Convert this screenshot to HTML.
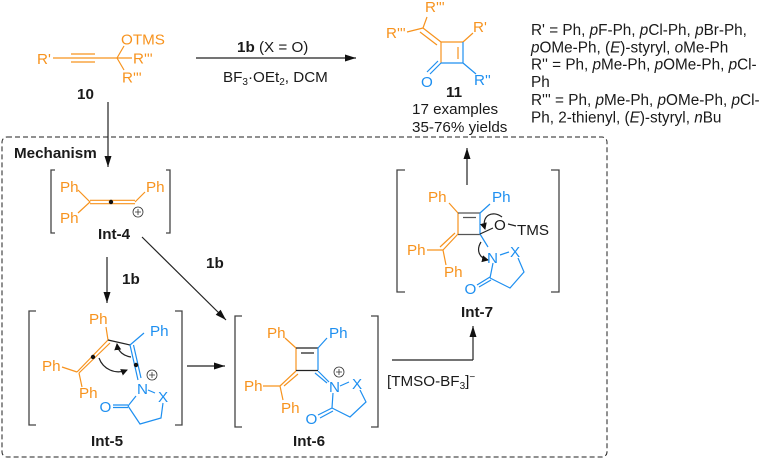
<!DOCTYPE html>
<html><head><meta charset="utf-8"><style>
html,body{margin:0;padding:0;background:#fff;width:761px;height:458px;overflow:hidden}
svg{display:block}
text{font-family:"Liberation Sans",sans-serif;font-size:15.2px;fill:#1a1a1a}
.o{fill:#f7931e}.b{fill:#1e8ff0}.B{font-weight:bold}
.r{font-size:15.3px}
.lo{stroke:#f7931e;fill:none;stroke-width:1.2}
.lb{stroke:#1e8ff0;fill:none;stroke-width:1.2}
.lk{stroke:#222;fill:none;stroke-width:1.2}
.br{stroke:#444;fill:none;stroke-width:1.3}
.pl{fill:none;stroke:#333;stroke-width:.8}
</style></head><body>
<svg width="761" height="458" viewBox="0 0 761 458" xmlns="http://www.w3.org/2000/svg">
<defs>
<marker id="a" markerUnits="userSpaceOnUse" markerWidth="12" markerHeight="10" refX="11" refY="5" orient="auto"><path d="M0 1.500L11 5L0 8.500Z" fill="#111"/></marker>
<marker id="c" markerUnits="userSpaceOnUse" markerWidth="8" markerHeight="8" refX="6" refY="4" orient="auto"><path d="M0 .5L7 4L0 7.500Z" fill="#111"/></marker>
</defs>

<!-- dashed box -->
<rect x="2" y="137" width="605" height="320" rx="5" fill="none" stroke="#222" stroke-width="1" stroke-dasharray="5 3"/>

<!-- 10 -->
<g class="lo">
<path d="M53 58H71M71 58H95M71 54H95M71 62H95M95 58H117L132 58"/>
<path d="M117 58L124 46M117 58L124 70"/>
</g>
<text class="o" x="37" y="64">R'</text>
<text class="o" x="121" y="44.500">OTMS</text>
<text class="o" x="133" y="63.500">R'''</text>
<text class="o" x="122" y="82.500">R'''</text>
<text class="B" x="77" y="99">10</text>

<!-- main arrow -->
<line class="lk" x1="196" y1="58" x2="356" y2="58" marker-end="url(#a)"/>
<text x="237" y="52"><tspan class="B">1b</tspan> (X = O)</text>
<text x="223" y="82">BF<tspan font-size="10" dy="3">3</tspan><tspan dy="-3">·OEt</tspan><tspan font-size="10" dy="3">2</tspan><tspan dy="-3">, DCM</tspan></text>

<!-- 11 -->
<g class="lo">
<path d="M441 42H463M441 42V63M463 42L473 33M458 47V59"/>
<path d="M423 28L441 42M420 32L437 45M423 28L427 17M407 32L423 28"/>
</g>
<g class="lb">
<path d="M441 63H463M463 42V63M463 63L476 74"/>
<path d="M441 63L430 74M438 61L427 72"/>
</g>
<text class="o" x="425" y="12">R'''</text>
<text class="o" x="386" y="38">R'''</text>
<text class="o" x="473" y="32">R'</text>
<text class="b" x="421" y="87">O</text>
<text class="b" x="474" y="85">R''</text>
<text class="B" x="446" y="97">11</text>
<text x="412" y="114">17 examples</text>
<text x="412" y="132">35-76% yields</text>

<!-- right text -->
<text class="r" x="531" y="35">R' = Ph, <tspan font-style="italic">p</tspan>F-Ph, <tspan font-style="italic">p</tspan>Cl-Ph, <tspan font-style="italic">p</tspan>Br-Ph,</text>
<text class="r" x="531" y="52.500"><tspan font-style="italic">p</tspan>OMe-Ph, (<tspan font-style="italic">E</tspan>)-styryl, <tspan font-style="italic">o</tspan>Me-Ph</text>
<text class="r" x="531" y="69.500">R'' = Ph, <tspan font-style="italic">p</tspan>Me-Ph, <tspan font-style="italic">p</tspan>OMe-Ph, <tspan font-style="italic">p</tspan>Cl-</text>
<text class="r" x="531" y="87">Ph</text>
<text class="r" x="531" y="105">R''' = Ph, <tspan font-style="italic">p</tspan>Me-Ph, <tspan font-style="italic">p</tspan>OMe-Ph, <tspan font-style="italic">p</tspan>Cl-</text>
<text class="r" x="531" y="122.500">Ph, 2-thienyl, (<tspan font-style="italic">E</tspan>)-styryl, <tspan font-style="italic">n</tspan>Bu</text>

<text class="B" x="14" y="158">Mechanism</text>
<line class="lk" x1="108" y1="102" x2="108" y2="167" marker-end="url(#a)"/>

<!-- Int-4 -->
<path class="br" d="M55 170H51V233H55M166 170H170V233H166"/>
<g class="lo">
<path d="M78 190L90 202L78 213M135 202L145 192"/>
<path d="M90 200.300H135M90 203.700H135"/>
</g>
<circle cx="111" cy="202" r="2.200" fill="#111"/>
<circle class="pl" cx="138" cy="212" r="5"/><path class="pl" d="M135 212H141M138 209V215"/>
<text class="o" x="60" y="192">Ph</text>
<text class="o" x="60" y="223">Ph</text>
<text class="o" x="146" y="192">Ph</text>
<text class="B" x="98" y="239">Int-4</text>

<line class="lk" x1="107" y1="257" x2="107" y2="303" marker-end="url(#a)"/>
<text class="B" x="122" y="284">1b</text>
<line class="lk" x1="142" y1="237" x2="226" y2="320" marker-end="url(#a)"/>
<text class="B" x="206" y="268">1b</text>

<!-- Int-5 -->
<path class="br" d="M36 311H29V425H36M175 311H182V425H175"/>
<g class="lo">
<path d="M108 340L77 372M110 343L79 373"/>
<path d="M106 327L108 340M62 367L77 372M79 373L82 387"/>
</g>
<path class="lk" d="M108 340L130 345"/>
<g class="lb">
<path d="M130 345L144 333M130 345L138 380M133.500 345L141 378"/>
<path d="M148 390L155 393M136 396L128 406M128 405H113M128 407.500H113M128 406L140 424L161 418L163 403"/>
</g>
<circle cx="93" cy="357" r="2.200" fill="#111"/>
<circle cx="136" cy="365" r="2.200" fill="#111"/>
<path class="lk" d="M131 357C124 356 118 352 117 344" stroke-width="1" marker-end="url(#c)"/>
<path class="lk" d="M99 358C103 369 115 375 127 370" stroke-width="1" marker-end="url(#c)"/>
<circle class="pl" cx="152" cy="375" r="5"/><path class="pl" d="M149 375H155M152 372V378"/>
<text class="o" x="89" y="324">Ph</text>
<text class="b" x="150" y="336">Ph</text>
<text class="o" x="42" y="371">Ph</text>
<text class="o" x="79" y="398">Ph</text>
<text class="b" x="137" y="394">N</text>
<text class="b" x="158" y="402">X</text>
<text class="b" x="99.500" y="412">O</text>
<text class="B" x="91" y="446">Int-5</text>

<line class="lk" x1="187" y1="366" x2="225" y2="366" marker-end="url(#a)"/>

<!-- Int-6 -->
<path class="br" d="M242 316H235V427H242M371 316H378V427H371"/>
<g class="lo">
<path d="M296 348V371M296 348L285 338"/>
<path d="M296 371L280 386M298 374L284 386M280 386H263M280 386L283 400"/>
</g>
<path class="lk" d="M296 348H318M301 353H314M296 370.500H318"/>
<g class="lb">
<path d="M318 348V370M318 348L327 338"/>
<path d="M318 371L329 382M315 373L327 383"/>
<path d="M340 386L349 382M333 393L332 408M332 408L318 415M333 411L320 418M332 408L350 417L366 402L360 390"/>
</g>
<circle class="pl" cx="339" cy="372" r="5"/><path class="pl" d="M336 372H342M339 369V375"/>
<text class="o" x="267" y="338">Ph</text>
<text class="b" x="329" y="338">Ph</text>
<text class="o" x="244" y="391">Ph</text>
<text class="o" x="281" y="413">Ph</text>
<text class="b" x="329" y="392">N</text>
<text class="b" x="352" y="389">X</text>
<text class="b" x="305.500" y="424">O</text>
<text class="B" x="293" y="446">Int-6</text>

<line class="lk" x1="392" y1="360" x2="473" y2="360"/>
<line class="lk" x1="473" y1="360" x2="473" y2="326" marker-end="url(#a)"/>
<text x="387" y="386">[TMSO-BF<tspan font-size="10" dy="3">3</tspan><tspan dy="-3">]</tspan><tspan font-size="10" dy="-6">−</tspan></text>

<!-- Int-7 -->
<path class="br" d="M405 170H397V292H405M551 170H559V292H551"/>
<line class="lk" x1="467" y1="185" x2="467" y2="148" marker-end="url(#a)"/>
<g class="lo">
<path d="M458 213V234M458 213L449 203"/>
<path d="M458 234L443 250M455 233L440 247M443 250H427M443 250L446 265"/>
</g>
<path d="M458 213H480M463 217.500H476M458 234.500H480" stroke="#555" fill="none" stroke-width="1.300"/>
<g class="lb">
<path d="M480 213V234M480 213L490 204"/>
<path d="M480 234L488 247M500 255L509 252M493 263L490 278M490 277L477 285M491 280L479 287M490 278L510 288L524 272L518 258"/>
</g>
<path class="lk" d="M480 234L493 228M508 224L516 226" stroke-width="1"/>
<path class="lk" d="M502 217C493 210 481 215 485 229" stroke-width="1" marker-end="url(#c)"/>
<path class="lk" d="M481 242C476 250 479 258 488 260" stroke-width="1" marker-end="url(#c)"/>
<text class="o" x="428" y="202">Ph</text>
<text class="b" x="492" y="202">Ph</text>
<text x="494" y="230">O</text>
<text x="517" y="235">TMS</text>
<text class="o" x="407" y="255">Ph</text>
<text class="o" x="444" y="277">Ph</text>
<text class="b" x="487" y="263">N</text>
<text class="b" x="510" y="257">X</text>
<text class="b" x="464.500" y="294">O</text>
<text class="B" x="461" y="317">Int-7</text>
</svg>
</body></html>
